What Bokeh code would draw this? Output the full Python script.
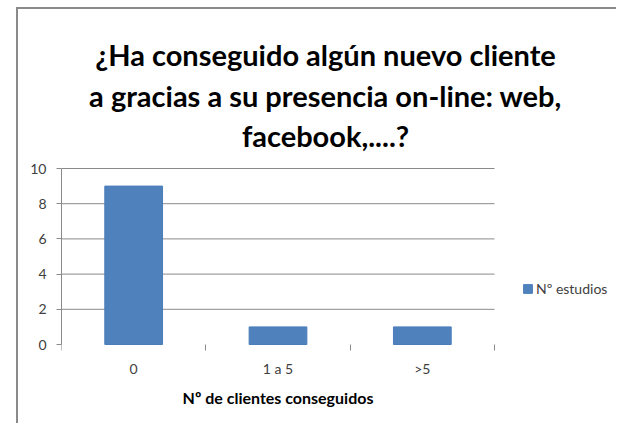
from bokeh.plotting import figure
from bokeh.models import (Range1d, FixedTicker, Legend, LegendItem, Label, ColumnDataSource)
from bokeh.embed import file_html
from bokeh.resources import INLINE

categories = ["0", "1 a 5", ">5"]
values = [9, 1, 1]
series_name = "Nº estudios"
y_ticks = [0, 2, 4, 6, 8, 10]
title_lines = ["¿Ha conseguido algún nuevo cliente",
               "a gracias a su presencia on-line: web,",
               "facebook,....?"]
x_title = "Nº de clientes conseguidos"

FONT = "Lato"
GRAY = "#8a8a8a"

# ---- page geometry (pixels): where the value axes sit, and the drawing area
AX_X0, AX_X1 = 61, 494      # category band start / end
AX_Y0, AX_Y1 = 344, 168     # value 0 / value 10
FL, FR, FT, FB = 61, 618, 9, 425
ORIG_X, ORIG_Y = 18, 9      # canvas content origin on the page
W, H = FR - ORIG_X, FB - ORIG_Y

ux = (AX_X1 - AX_X0) / len(categories)
uy = (AX_Y0 - AX_Y1) / (y_ticks[-1] - y_ticks[0])
def dx(px):
    return (px - AX_X0) / ux
def dy(py):
    return (AX_Y0 - py) / uy

xs = [i + 0.5 for i in range(len(categories))]
src = ColumnDataSource(dict(x=xs, top=values, cat=categories))

p = figure(width=W, height=H, output_backend="svg", toolbar_location=None,
           x_range=Range1d(dx(FL), dx(FR)), y_range=Range1d(dy(FB), dy(FT)),
           min_border_left=FL - ORIG_X, min_border_right=0,
           min_border_top=0, min_border_bottom=0,
           styles={"margin-left": "16px", "margin-top": "7px",
                   "border-left": "2px solid " + GRAY,
                   "border-top": "2px solid " + GRAY})
p.outline_line_color = None
p.background_fill_color = "white"
p.border_fill_color = "white"
p.xgrid.visible = False
p.ygrid.visible = False

# horizontal gridlines across the category band
gy = [v for v in y_ticks if v > y_ticks[0]]
p.segment(x0=[0] * len(gy), x1=[len(categories)] * len(gy), y0=gy, y1=gy,
          line_color=GRAY, line_width=1)

r = p.vbar(x="x", top="top", width=0.4, source=src, fill_color="#4F81BD",
           line_color="#4A7EBB", line_width=1)

xa = p.xaxis[0]
xa.fixed_location = 0
xa.bounds = (0, len(categories))
xa.ticker = FixedTicker(ticks=xs, minor_ticks=list(range(len(categories) + 1)))
xa.major_label_overrides = {x: c for x, c in zip(xs, categories)}
xa.axis_line_color = None
xa.major_tick_line_color = None
xa.minor_tick_line_color = GRAY
xa.minor_tick_in = 0
xa.minor_tick_out = 6
xa.major_label_standoff = 9
xa.major_label_text_font = FONT
xa.major_label_text_font_size = "14px"
xa.major_label_text_color = "#404040"

ya = p.yaxis[0]
ya.bounds = (y_ticks[0], y_ticks[-1])
ya.ticker = FixedTicker(ticks=y_ticks, minor_ticks=[])
ya.axis_line_color = GRAY
ya.major_tick_line_color = GRAY
ya.major_tick_in = 0
ya.major_tick_out = 5
ya.major_label_standoff = 10
ya.major_label_text_font = FONT
ya.major_label_text_font_size = "14px"
ya.major_label_text_color = "#404040"

# axis title under the category labels
p.add_layout(Label(x=len(categories) / 2, y=dy(397), text=x_title,
                   text_align="center", text_baseline="middle", text_font=FONT,
                   text_font_size="16px", text_font_style="bold",
                   text_color="#000000"))

# chart title
title_center = 325
title_baselines = [54, 94.5, 135]
for line, yb in zip(title_lines, title_baselines):
    p.add_layout(Label(x=dx(title_center), y=dy(yb), text=line, text_align="center",
                       text_baseline="alphabetic", text_font=FONT,
                       text_font_size="29px", text_font_style="bold",
                       text_color="#000000"))

legend = Legend(items=[LegendItem(label=series_name, renderers=[r])],
                location=(522 - FL, FB - 289 - 8), padding=0, margin=0,
                glyph_width=11, glyph_height=11, label_standoff=3, label_height=14,
                label_text_font=FONT, label_text_font_size="14px",
                label_text_color="#404040", border_line_color=None,
                background_fill_alpha=0)
p.add_layout(legend)

open("out.html", "w").write(file_html(p, INLINE))
